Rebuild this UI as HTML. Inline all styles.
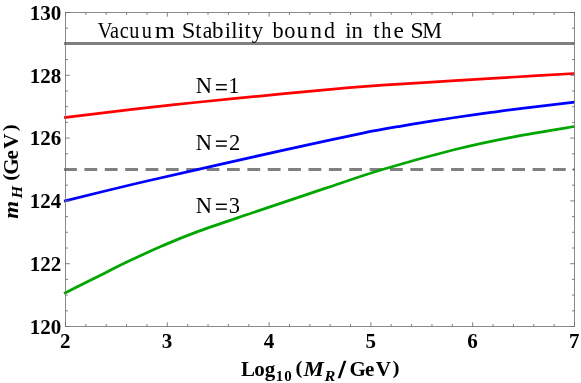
<!DOCTYPE html>
<html><head><meta charset="utf-8"><title>plot</title>
<style>
html,body{margin:0;padding:0;background:#fff;}
body{width:581px;height:383px;overflow:hidden;font-family:"Liberation Serif",serif;}
svg{display:block;will-change:transform}
text{font-family:"Liberation Serif",serif;fill:#000}
</style></head><body>
<svg width="581" height="383" viewBox="0 0 581 383">
<rect x="0" y="0" width="581" height="383" fill="#fff"/>
<g fill="none" stroke-linecap="butt">
<path d="M64.05 43.55H574.5" stroke="#808080" stroke-width="3.0"/>
<path d="M64.05 169.50H574.5" stroke="#808080" stroke-width="3.0" stroke-dasharray="12.8 7.57" stroke-dashoffset="0"/>
<path d="M64.05 117.70 C75.04 116.35 108.17 112.13 130.00 109.60 C151.82 107.07 173.33 104.75 195.00 102.50 C216.67 100.25 238.33 98.22 260.00 96.10 C281.67 93.98 304.58 91.62 325.00 89.80 C345.42 87.98 360.83 86.73 382.50 85.20 C404.17 83.67 432.92 81.97 455.00 80.60 C477.08 79.23 495.08 78.18 515.00 77.00 C534.92 75.82 564.58 74.08 574.50 73.50" stroke="#ff0000" stroke-width="2.75"/>
<path d="M64.05 201.05 C75.04 198.38 108.17 190.16 130.00 185.00 C151.82 179.84 174.58 174.75 195.00 170.10 C215.42 165.45 230.83 161.93 252.50 157.10 C274.17 152.27 306.42 145.15 325.00 141.10 C343.58 137.05 351.50 135.27 364.00 132.80 C376.50 130.33 388.00 128.37 400.00 126.30 C412.00 124.23 426.83 121.87 436.00 120.40 C445.17 118.93 445.83 118.83 455.00 117.50 C464.17 116.17 480.17 113.93 491.00 112.45 C501.83 110.97 506.08 110.32 520.00 108.60 C533.92 106.88 565.42 103.18 574.50 102.10" stroke="#0000ff" stroke-width="2.75"/>
<path d="M64.05 293.55 C69.62 290.74 86.51 282.19 97.50 276.70 C108.49 271.21 119.17 265.75 130.00 260.60 C140.83 255.45 151.67 250.47 162.50 245.80 C173.33 241.13 180.00 238.10 195.00 232.60 C210.00 227.10 230.83 220.17 252.50 212.80 C274.17 205.43 303.33 195.62 325.00 188.40 C346.67 181.18 360.83 175.98 382.50 169.50 C404.17 163.02 434.00 154.78 455.00 149.50 C476.00 144.22 488.58 141.63 508.50 137.80 C528.42 133.97 563.50 128.38 574.50 126.50" stroke="#00a600" stroke-width="2.75"/>
</g>
<g stroke="#6e6e6e" stroke-width="0.8" fill="none">
<rect x="65.5" y="12.5" width="509.0" height="314.0"/>
<path d="M65.50 326.50v-4.20M65.50 12.50v4.20M85.86 326.50v-2.40M85.86 12.50v2.40M106.22 326.50v-2.40M106.22 12.50v2.40M126.58 326.50v-2.40M126.58 12.50v2.40M146.94 326.50v-2.40M146.94 12.50v2.40M167.30 326.50v-4.20M167.30 12.50v4.20M187.66 326.50v-2.40M187.66 12.50v2.40M208.02 326.50v-2.40M208.02 12.50v2.40M228.38 326.50v-2.40M228.38 12.50v2.40M248.74 326.50v-2.40M248.74 12.50v2.40M269.10 326.50v-4.20M269.10 12.50v4.20M289.46 326.50v-2.40M289.46 12.50v2.40M309.82 326.50v-2.40M309.82 12.50v2.40M330.18 326.50v-2.40M330.18 12.50v2.40M350.54 326.50v-2.40M350.54 12.50v2.40M370.90 326.50v-4.20M370.90 12.50v4.20M391.26 326.50v-2.40M391.26 12.50v2.40M411.62 326.50v-2.40M411.62 12.50v2.40M431.98 326.50v-2.40M431.98 12.50v2.40M452.34 326.50v-2.40M452.34 12.50v2.40M472.70 326.50v-4.20M472.70 12.50v4.20M493.06 326.50v-2.40M493.06 12.50v2.40M513.42 326.50v-2.40M513.42 12.50v2.40M533.78 326.50v-2.40M533.78 12.50v2.40M554.14 326.50v-2.40M554.14 12.50v2.40M574.50 326.50v-4.20M574.50 12.50v4.20M65.50 326.50h4.20M574.50 326.50h-4.20M65.50 310.80h2.40M574.50 310.80h-2.40M65.50 295.10h2.40M574.50 295.10h-2.40M65.50 279.40h2.40M574.50 279.40h-2.40M65.50 263.70h4.20M574.50 263.70h-4.20M65.50 248.00h2.40M574.50 248.00h-2.40M65.50 232.30h2.40M574.50 232.30h-2.40M65.50 216.60h2.40M574.50 216.60h-2.40M65.50 200.90h4.20M574.50 200.90h-4.20M65.50 185.20h2.40M574.50 185.20h-2.40M65.50 169.50h2.40M574.50 169.50h-2.40M65.50 153.80h2.40M574.50 153.80h-2.40M65.50 138.10h4.20M574.50 138.10h-4.20M65.50 122.40h2.40M574.50 122.40h-2.40M65.50 106.70h2.40M574.50 106.70h-2.40M65.50 91.00h2.40M574.50 91.00h-2.40M65.50 75.30h4.20M574.50 75.30h-4.20M65.50 59.60h2.40M574.50 59.60h-2.40M65.50 43.90h2.40M574.50 43.90h-2.40M65.50 28.20h2.40M574.50 28.20h-2.40M65.50 12.50h4.20M574.50 12.50h-4.20" stroke-width="0.9"/>
</g>
<g font-weight="bold" font-size="21"><text x="61.30" y="333.80" text-anchor="end">120</text><text x="61.30" y="271.00" text-anchor="end">122</text><text x="61.30" y="208.20" text-anchor="end">124</text><text x="61.30" y="145.40" text-anchor="end">126</text><text x="61.30" y="82.60" text-anchor="end">128</text><text x="61.30" y="19.80" text-anchor="end">130</text><text x="65.30" y="347.50" text-anchor="middle">2</text><text x="167.10" y="347.50" text-anchor="middle">3</text><text x="268.90" y="347.50" text-anchor="middle">4</text><text x="370.70" y="347.50" text-anchor="middle">5</text><text x="472.50" y="347.50" text-anchor="middle">6</text><text x="574.30" y="347.50" text-anchor="middle">7</text></g>
<g font-size="22.5"><text transform="translate(104.85,0) scale(0.921,1)" x="-8.12" y="37.90">V</text><text transform="translate(114.60,0) scale(0.900,1)" x="-5.23" y="37.90">a</text><text transform="translate(124.30,0) scale(0.900,1)" x="-5.08" y="37.90">c</text><text transform="translate(134.15,0) scale(0.900,1)" x="-5.58" y="37.90">u</text><text transform="translate(146.85,0) scale(0.900,1)" x="-5.58" y="37.90">u</text><text transform="translate(164.95,0) scale(1.150,1)" x="-8.81" y="37.90">m</text><text transform="translate(188.75,0) scale(1.092,1)" x="-6.31" y="37.90">S</text><text transform="translate(198.50,0) scale(1.000,1)" x="-3.17" y="37.90">t</text><text transform="translate(207.75,0) scale(0.956,1)" x="-5.23" y="37.90">a</text><text transform="translate(217.30,0) scale(1.020,1)" x="-5.20" y="37.90">b</text><text transform="translate(227.80,0) scale(1.000,1)" x="-3.15" y="37.90">i</text><text transform="translate(234.45,0) scale(1.000,1)" x="-3.13" y="37.90">l</text><text transform="translate(241.00,0) scale(1.000,1)" x="-3.15" y="37.90">i</text><text transform="translate(247.70,0) scale(1.000,1)" x="-3.17" y="37.90">t</text><text transform="translate(257.55,0) scale(1.020,1)" x="-5.72" y="37.90">y</text><text transform="translate(277.55,0) scale(0.991,1)" x="-5.20" y="37.90">b</text><text transform="translate(289.95,0) scale(0.996,1)" x="-5.62" y="37.90">o</text><text transform="translate(302.25,0) scale(0.993,1)" x="-5.58" y="37.90">u</text><text transform="translate(316.20,0) scale(1.020,1)" x="-5.71" y="37.90">n</text><text transform="translate(329.85,0) scale(0.974,1)" x="-5.89" y="37.90">d</text><text transform="translate(348.40,0) scale(1.000,1)" x="-3.15" y="37.90">i</text><text transform="translate(357.35,0) scale(1.010,1)" x="-5.71" y="37.90">n</text><text transform="translate(376.30,0) scale(1.000,1)" x="-3.17" y="37.90">t</text><text transform="translate(386.25,0) scale(0.904,1)" x="-5.59" y="37.90">h</text><text transform="translate(398.60,0) scale(1.033,1)" x="-5.04" y="37.90">e</text><text transform="translate(417.05,0) scale(1.051,1)" x="-6.31" y="37.90">S</text><text transform="translate(432.05,0) scale(0.989,1)" x="-10.00" y="37.90">M</text><text x="195.86" y="93.20">N</text><text x="228.36" y="93.20">1</text><rect x="215.9" y="84.08" width="10.9" height="1.45" fill="#000"/><rect x="215.9" y="88.88" width="10.9" height="1.45" fill="#000"/><text x="195.86" y="149.60">N</text><text x="229.00" y="149.60">2</text><rect x="215.9" y="140.47" width="10.9" height="1.45" fill="#000"/><rect x="215.9" y="145.28" width="10.9" height="1.45" fill="#000"/><text x="195.86" y="212.70">N</text><text x="228.78" y="212.70">3</text><rect x="215.9" y="203.57" width="10.9" height="1.45" fill="#000"/><rect x="215.9" y="208.38" width="10.9" height="1.45" fill="#000"/></g>
<g font-weight="bold" font-size="21"><text x="240.91" y="375.60">L</text><text x="254.30" y="375.60">o</text><text x="264.63" y="375.60">g</text><text transform="translate(0,361.03) scale(1,0.920)" x="295.48" y="14.57">(</text><text x="349.56" y="375.60">G</text><text x="365.00" y="375.60">e</text><text x="375.77" y="375.60">V</text><text transform="translate(0,361.03) scale(1,0.920)" x="392.58" y="14.57">)</text><g font-size="15"><text x="275.84" y="380.70">1</text><text x="284.20" y="380.70">0</text></g><g font-style="italic"><text transform="translate(313.90,0) scale(1.090,1)" x="-9.49" y="375.60">M</text></g><g font-style="italic" font-size="15"><text transform="translate(329.65,0) scale(1.090,1)" x="-4.71" y="380.70">R</text></g><path d="M337.70 378.20 L340.30 378.20 L346.40 360.80 L343.80 360.80 Z" fill="#000"/></g>
<g font-weight="bold" font-size="21" transform="translate(17.5,0) rotate(-90)"><text transform="translate(0,-14.57) scale(1,0.920)" x="-180.72" y="14.57">(</text><text x="-174.84" y="0.00">G</text><text x="-159.60" y="0.00">e</text><text x="-148.78" y="0.00">V</text><text transform="translate(0,-14.57) scale(1,0.920)" x="-131.37" y="14.57">)</text><g font-style="italic"><text transform="translate(-210.30,0) scale(1.090,1)" x="-7.86" y="0.00">m</text></g><g font-style="italic" font-size="15"><text transform="translate(-191.95,0) scale(1.090,1)" x="-5.97" y="4.40">H</text></g></g>
</svg>
</body></html>
